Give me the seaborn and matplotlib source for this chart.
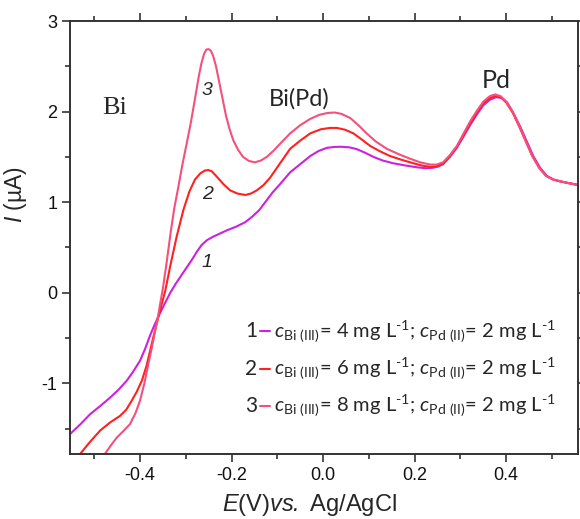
import numpy as np
import pandas as pd
import matplotlib
matplotlib.use("Agg")
import matplotlib.pyplot as plt
from matplotlib.lines import Line2D
import seaborn as sns

# Differential pulse stripping voltammograms: potential (V vs Ag/AgCl) and current (µA)
e1 = [-0.553, -0.530, -0.509, -0.487, -0.466, -0.447, -0.429, -0.415, -0.400, -0.389,
      -0.378, -0.368, -0.358, -0.346, -0.334, -0.322, -0.310, -0.298, -0.286, -0.275,
      -0.265, -0.254, -0.240, -0.225, -0.210, -0.190, -0.170, -0.155, -0.140, -0.125,
      -0.110, -0.094, -0.072, -0.050, -0.028, -0.010, 0.008, 0.025, 0.040, 0.058,
      0.074, 0.092, 0.110, 0.130, 0.153, 0.180, 0.205, 0.225, 0.240, 0.252,
      0.262, 0.277, 0.292, 0.306, 0.321, 0.336, 0.350, 0.364, 0.378, 0.390,
      0.402, 0.416, 0.430, 0.445, 0.459, 0.474, 0.489, 0.503, 0.518, 0.537, 0.557]
i1 = [-1.56, -1.45, -1.34, -1.25, -1.16, -1.07, -0.97, -0.87, -0.75, -0.62,
      -0.47, -0.35, -0.24, -0.12, 0.00, 0.10, 0.19, 0.28, 0.37, 0.46,
      0.53, 0.58, 0.62, 0.655, 0.69, 0.73, 0.78, 0.84, 0.91, 1.01,
      1.11, 1.20, 1.33, 1.42, 1.51, 1.565, 1.60, 1.61, 1.612, 1.605,
      1.585, 1.545, 1.50, 1.46, 1.43, 1.405, 1.385, 1.375, 1.38, 1.395,
      1.42, 1.50, 1.60, 1.72, 1.85, 1.97, 2.07, 2.13, 2.16, 2.15,
      2.10, 1.98, 1.84, 1.67, 1.51, 1.38, 1.29, 1.25, 1.23, 1.21, 1.19]

e2 = [-0.531, -0.510, -0.487, -0.465, -0.444, -0.430, -0.418, -0.407, -0.396, -0.386,
      -0.378, -0.370, -0.362, -0.354, -0.345, -0.333, -0.320, -0.305, -0.292, -0.280,
      -0.268, -0.258, -0.251, -0.243, -0.232, -0.218, -0.203, -0.187, -0.170, -0.158,
      -0.145, -0.130, -0.116, -0.094, -0.072, -0.050, -0.028, -0.005, 0.015, 0.030,
      0.048, 0.066, 0.085, 0.103, 0.125, 0.146, 0.170, 0.197, 0.215, 0.234,
      0.248, 0.262, 0.277, 0.292, 0.306, 0.321, 0.336, 0.350, 0.364, 0.376,
      0.388, 0.400, 0.414, 0.428, 0.443, 0.457, 0.472, 0.487, 0.503, 0.518,
      0.537, 0.557]
i2 = [-1.78, -1.65, -1.52, -1.43, -1.36, -1.29, -1.19, -1.09, -0.97, -0.81,
      -0.64, -0.47, -0.31, -0.15, 0.02, 0.32, 0.62, 0.92, 1.12, 1.25,
      1.32, 1.35, 1.355, 1.34, 1.28, 1.20, 1.13, 1.095, 1.08, 1.095,
      1.13, 1.19, 1.27, 1.43, 1.59, 1.68, 1.76, 1.805, 1.82, 1.82,
      1.80, 1.76, 1.69, 1.62, 1.56, 1.51, 1.47, 1.43, 1.405, 1.39,
      1.395, 1.425, 1.51, 1.61, 1.73, 1.87, 1.99, 2.09, 2.15, 2.17,
      2.16, 2.10, 1.99, 1.84, 1.67, 1.51, 1.38, 1.29, 1.25, 1.23,
      1.21, 1.19]

e3 = [-0.477, -0.463, -0.451, -0.437, -0.422, -0.410, -0.400, -0.391, -0.382, -0.374,
      -0.367, -0.361, -0.356, -0.350, -0.342, -0.333, -0.325, -0.317, -0.308, -0.298,
      -0.289, -0.280, -0.272, -0.266, -0.260, -0.255, -0.250, -0.245, -0.240, -0.234,
      -0.228, -0.220, -0.212, -0.204, -0.196, -0.186, -0.175, -0.162, -0.149, -0.136,
      -0.123, -0.108, -0.094, -0.072, -0.050, -0.028, -0.008, 0.010, 0.025, 0.040,
      0.059, 0.077, 0.095, 0.115, 0.139, 0.165, 0.190, 0.212, 0.234, 0.248,
      0.262, 0.277, 0.292, 0.306, 0.321, 0.336, 0.350, 0.364, 0.376, 0.388,
      0.400, 0.414, 0.428, 0.443, 0.457, 0.472, 0.487, 0.503, 0.518, 0.537, 0.557]
i3 = [-1.78, -1.68, -1.60, -1.53, -1.45, -1.33, -1.19, -1.01, -0.79, -0.60,
      -0.42, -0.27, -0.12, 0.05, 0.33, 0.67, 0.94, 1.15, 1.40, 1.65,
      1.88, 2.14, 2.38, 2.53, 2.64, 2.685, 2.69, 2.67, 2.61, 2.50,
      2.35, 2.15, 1.95, 1.80, 1.68, 1.58, 1.50, 1.455, 1.44, 1.46,
      1.50, 1.57, 1.645, 1.76, 1.85, 1.92, 1.965, 1.985, 1.99, 1.975,
      1.93, 1.85, 1.76, 1.67, 1.59, 1.53, 1.48, 1.44, 1.415, 1.415,
      1.44, 1.52, 1.62, 1.75, 1.89, 2.01, 2.11, 2.17, 2.19, 2.17,
      2.11, 2.00, 1.85, 1.67, 1.51, 1.38, 1.29, 1.25, 1.23, 1.21, 1.19]

curve_ids = ["1", "2", "3"]
bi_conc = ["4", "6", "8"]
pd_conc = "2"
colors = ["#cc22dd", "#ff2020", "#f5507c"]

frames = []
for cid, e, i in zip(curve_ids, [e1, e2, e3], [i1, i2, i3]):
    frames.append(pd.DataFrame({"E": e, "I": i, "curve": cid}))
df = pd.concat(frames, ignore_index=True)

sns.set_theme(style="ticks")
plt.rcParams["font.family"] = ["Liberation Sans", "DejaVu Sans"]
plt.rcParams["mathtext.fontset"] = "custom"
plt.rcParams["mathtext.rm"] = "Lato"
plt.rcParams["mathtext.it"] = "Lato:italic"
plt.rcParams["mathtext.bf"] = "Lato:bold"
plt.rcParams["mathtext.cal"] = "Liberation Sans:italic"

fig = plt.figure(figsize=(5.8, 5.19), dpi=100)
ax = fig.add_axes([0.1207, 0.1252, 0.876, 0.8343])

sns.lineplot(data=df, x="E", y="I", hue="curve", palette=dict(zip(curve_ids, colors)),
             estimator=None, sort=False, linewidth=1.5, legend=False, ax=ax)

ax.set_xlim(-0.553, 0.557)
ax.set_ylim(-1.78, 3.0)
ax.set_xticks([-0.4, -0.2, 0.0, 0.2, 0.4])
ax.set_xticklabels(["-0.4", "-0.2", "0.0", "0.2", "0.4"])
ax.set_xticks(np.arange(-0.5, 0.56, 0.1), minor=True)
ax.set_yticks([-1, 0, 1, 2, 3])
ax.set_yticklabels(["-1", "0", "1", "2", "3"])
ax.set_yticks(np.arange(-1.5, 3.01, 0.5), minor=True)

for s in ax.spines.values():
    s.set_color("#333333")
    s.set_linewidth(1.4)
ax.tick_params(which="both", direction="out", top=True, right=True,
               labeltop=False, labelright=False, color="#333333", width=1.2)
ax.tick_params(which="major", length=6, labelsize=13, pad=3, labelcolor="#111111")
ax.tick_params(which="minor", length=3.5)

ax.set_xlabel(r"$\mathcal{E}$(V)$\mathcal{vs.}$ Ag/AgCl", fontsize=17)
ax.xaxis.set_label_coords(0.472, -0.088)
ax.set_ylabel(r"$\mathcal{I}$ (µA)", fontsize=16.5)
ax.yaxis.set_label_coords(-0.08, 0.60)

# peak annotations
ax.text(-0.455, 2.04, "Bi", fontsize=19, fontfamily="Liberation Serif", ha="center", va="center")
ax.text(-0.053, 2.14, "Bi(Pd)", fontsize=17, fontfamily="Lato", ha="center", va="center")
ax.text(0.378, 2.34, "Pd", fontsize=18, fontfamily="Lato", ha="center", va="center")

# curve numbers
for cid, yi in zip(curve_ids, [0.33, 1.09, 2.23]):
    ax.text(-0.253, yi, cid, fontsize=14, style="italic", ha="center", va="center")

# composition key
row_y = [0.283, 0.197, 0.110]
for cid, col, conc, yy in zip(curve_ids, colors, bi_conc, row_y):
    ax.text(0.345, yy, cid, transform=ax.transAxes, fontsize=15, fontfamily="Lato",
            ha="left", va="center")
    ax.add_line(Line2D([0.373, 0.393], [yy, yy], transform=ax.transAxes, color=col, lw=1.5))
    label = (r"$\mathit{c}_{\mathrm{Bi\ (III)}}$= " + conc + r" mg L$^{\text{-1}}$; "
             r"$\mathit{c}_{\mathrm{Pd\ (II)}}$= " + pd_conc + r" mg L$^{\text{-1}}$")
    ax.text(0.402, yy, label, transform=ax.transAxes, fontsize=14.5, fontfamily="Lato",
            ha="left", va="center")

fig.savefig("out.png", dpi=100)
